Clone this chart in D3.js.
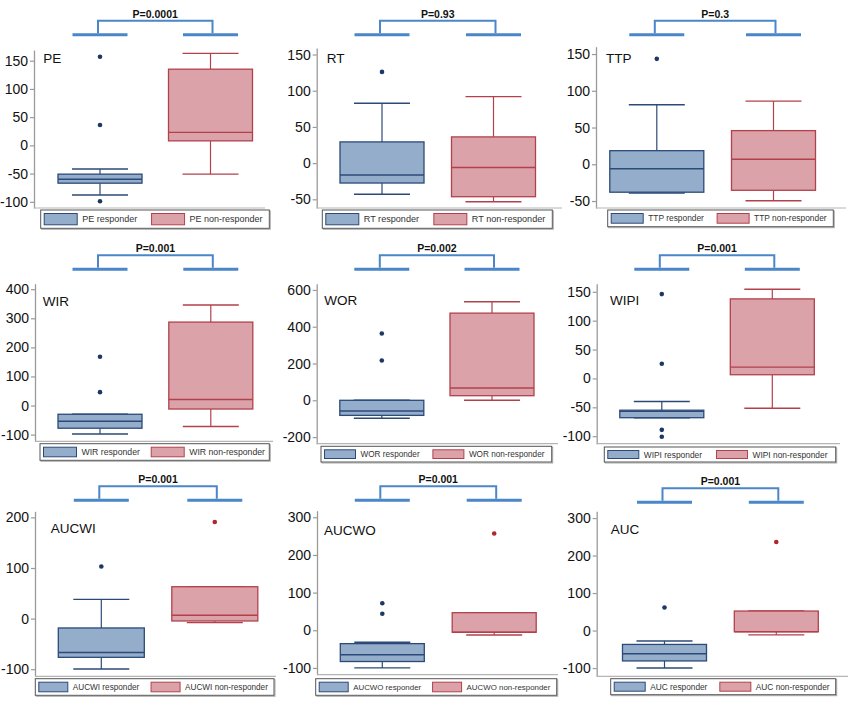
<!DOCTYPE html>
<html><head><meta charset="utf-8">
<script src="https://cdn.jsdelivr.net/npm/d3@7"></script>
<style>body{margin:0;background:#fff} svg{display:block}</style>
</head><body>
<svg id="chart" width="855" height="704"></svg>
<script>
// ---------- DATA ----------
const panelNames = ["PE","RT","TTP","WIR","WOR","WIPI","AUCWI","AUCWO","AUC"];
const pLabels = ["P=0.0001","P=0.93","P=0.3","P=0.001","P=0.002","P=0.001","P=0.001","P=0.001","P=0.001"];
const groups = ["responder","non-responder"];
const yTicks = [
  [-100,-50,0,50,100,150],
  [-50,0,50,100,150],
  [-50,0,50,100,150],
  [-100,0,100,200,300,400],
  [-200,0,200,400,600],
  [-100,-50,0,50,100,150],
  [-100,0,100,200],
  [-100,0,100,200,300],
  [-100,0,100,200,300]
];
const yDomains = [
  [-111,169],[-62,159],[-59.5,160],
  [-123,419],[-236,634],[-113,164],
  [-114,212],[-118,317.5],[-122,318]
];
// [lower whisker, Q1, median, Q3, upper whisker]
const responderStats = [
  [-88,-67,-60,-51,-42],
  [-43,-27.5,-16.5,29.3,82.6],
  [-39,-38,-6,18.5,81],
  [-98,-78,-54,-30,-30],
  [-98,-82,-58,0,0],
  [-68,-68,-57,-55,-40],
  [-99.6,-76.5,-67,-18.5,38],
  [-100,-83,-65,-35.5,-32],
  [-100,-81,-62,-37,-28]
];
const nonResponderStats = [
  [-51,8,23,135,163],
  [-53.3,-46.4,-6,36.2,91.8],
  [-49.6,-35.4,6.8,45.8,86],
  [-72,-12,21,287,346],
  [0,25,67,474,536],
  [-51.6,6.4,19.6,137.7,154.5],
  [-8,-4.7,6.5,63,63],
  [-12.4,-5.3,-5.3,46.7,46.7],
  [-11.5,-3,-3,52,52]
];
const responderOutliers = [
  [157,36,-99],[126],[143.5],[168,46],[363,216],[146,25.5,-89,-101],[103],[71.6,44],[61.5]
];
const nonResponderOutliers = [
  [],[],[],[],[],[],[191],[257],[236]
];

// ---------- LAYOUT (pixels) ----------
const layout = [
  {ax:34,   xr:265, top:50,    bot:208,   bar:34.7,  lx:9.3,  ly:62.5,  c0:66,   c1:176.5, bw0:84, bw1:84, leg:[40.7,269.3,210,228.3], lf:9,   sw:33},
  {ax:316.7,xr:562, top:48,    bot:208,   bar:34.7,  lx:10,   ly:62.7,  c0:65.3, c1:176.8, bw0:84, bw1:84, leg:[322.3,552.3,210,228.3], lf:9.1, sw:33},
  {ax:596,  xr:846, top:46.7,  bot:208,   bar:34.7,  lx:10,   ly:63.3,  c0:60.8, c1:177.5, bw0:94, bw1:84, leg:[607.7,833.3,210,226.7], lf:8.4, sw:32},
  {ax:35,   xr:273, top:283.7, bot:441.3, bar:269.3, lx:7.7,  ly:306,   c0:65,   c1:175.8, bw0:84, bw1:84, leg:[40,269.3,443.7,460.3],  lf:8.7, sw:33},
  {ax:316.7,xr:558, top:283.7, bot:443.7, bar:269.3, lx:7.6,  ly:304.5, c0:65.1, c1:175.3, bw0:84, bw1:84, leg:[321,551.7,446.3,462],   lf:8.2, sw:31},
  {ax:596.7,xr:840, top:283.7, bot:443.7, bar:269.3, lx:13.3, ly:304.5, c0:65.1, c1:175.6, bw0:84, bw1:84, leg:[604.3,835.7,447,462],   lf:8.4, sw:31},
  {ax:35,   xr:276, top:511.3, bot:676.3, bar:500.3, lx:15.7, ly:533,   c0:66.3, c1:179.8, bw0:86, bw1:86, leg:[35.3,274,678.7,695.3],  lf:8.2, sw:29},
  {ax:317,  xr:558, top:510.7, bot:674.7, bar:500.3, lx:7,    ly:534.5, c0:65.3, c1:177.2, bw0:84, bw1:84, leg:[315.7,556.7,678.7,695.3],lf:7.9, sw:29},
  {ax:596.7,xr:848, top:511.3, bot:676.3, bar:502.3, lx:14,   ly:533.5, c0:67.8, c1:179.6, bw0:84, bw1:84, leg:[610.7,835.7,678.7,694.7],lf:8.3, sw:31}
];

const style = {
  fill: {"responder":"#94adcb","non-responder":"#dba3a9"},
  stroke: {"responder":"#2c4a78","non-responder":"#b2414c"},
  dot: {"responder":"#1d3864","non-responder":"#b0262e"},
  bracket: "#4a86c8",
  axis: "#9a9a9a",
  font: "'Liberation Sans', Arial, Helvetica, sans-serif"
};

const svg = d3.select('#chart');

panelNames.forEach((name, i) => {
  const L = layout[i];
  const g = svg.append('g');
  const y = d3.scaleLinear().domain(yDomains[i]).range([L.bot, L.top]);
  const x = d3.scalePoint().domain(groups).range([L.ax + L.c0, L.ax + L.c1]);
  const bw = {"responder": L.bw0, "non-responder": L.bw1};
  const capW = 56;

  // y axis
  const axis = d3.axisLeft(y).tickValues(yTicks[i]).tickSize(4).tickSizeOuter(0).tickPadding(2)
    .tickFormat(d3.format("d"));
  const ag = g.append('g').attr('transform', `translate(${L.ax},0)`).call(axis);
  ag.select('.domain').attr('stroke', style.axis).attr('stroke-width', 1.3);
  ag.selectAll('.tick line').attr('stroke', style.axis).attr('stroke-width', 1.2);
  ag.selectAll('.tick text').attr('fill', '#111').style('font-family', style.font).style('font-size', '14px')
    .text(d => d < 0 ? '-' + Math.abs(d) : d);

  // x baseline
  g.append('line').attr('x1', L.ax).attr('x2', L.xr).attr('y1', L.bot).attr('y2', L.bot)
    .attr('stroke', '#b5b5b5').attr('stroke-width', 1.2);

  // panel label
  g.append('text').attr('x', L.ax + L.lx).attr('y', L.ly).text(name)
    .attr('fill', '#111').style('font-family', style.font).style('font-size', '13.5px');

  // boxes
  const stats = {"responder": responderStats[i], "non-responder": nonResponderStats[i]};
  const outl = {"responder": responderOutliers[i], "non-responder": nonResponderOutliers[i]};
  groups.forEach(grp => {
    const s = stats[grp];
    const cx = x(grp);
    const col = style.stroke[grp];
    const bg = g.append('g');
    if (s[4] > s[3]) bg.append('line').attr('x1', cx).attr('x2', cx).attr('y1', y(s[3])).attr('y2', y(s[4])).attr('stroke', col).attr('stroke-width', 1.2);
    if (s[0] < s[1]) bg.append('line').attr('x1', cx).attr('x2', cx).attr('y1', y(s[1])).attr('y2', y(s[0])).attr('stroke', col).attr('stroke-width', 1.2);
    [s[0], s[4]].forEach(v => {
      bg.append('line').attr('x1', cx - capW/2).attr('x2', cx + capW/2).attr('y1', y(v)).attr('y2', y(v))
        .attr('stroke', col).attr('stroke-width', 1.4);
    });
    bg.append('rect').attr('x', cx - bw[grp]/2).attr('width', bw[grp])
      .attr('y', y(s[3])).attr('height', Math.max(1, y(s[1]) - y(s[3])))
      .attr('fill', style.fill[grp]).attr('stroke', col).attr('stroke-width', 1.3);
    bg.append('line').attr('x1', cx - bw[grp]/2).attr('x2', cx + bw[grp]/2).attr('y1', y(s[2])).attr('y2', y(s[2]))
      .attr('stroke', col).attr('stroke-width', 1.4);
    bg.selectAll('circle.o').data(outl[grp]).enter().append('circle')
      .attr('cx', cx).attr('cy', d => y(d)).attr('r', 2.3).attr('fill', style.dot[grp]);
  });

  // bracket
  const barW = 55;
  const bk = g.append('g');
  groups.forEach(grp => {
    bk.append('line').attr('x1', x(grp) - barW/2).attr('x2', x(grp) + barW/2)
      .attr('y1', L.bar).attr('y2', L.bar).attr('stroke', style.bracket).attr('stroke-width', 3);
  });
  const xl = x(groups[0]) - 2, xrr = x(groups[1]) + 2, ty = L.bar - 14;
  bk.append('path').attr('d', `M${xl},${L.bar - 1.5}V${ty}H${xrr}V${L.bar - 1.5}`)
    .attr('fill', 'none').attr('stroke', style.bracket).attr('stroke-width', 2);
  bk.append('text').attr('x', (xl + xrr) / 2).attr('y', ty - 3).attr('text-anchor', 'middle')
    .text(pLabels[i]).attr('fill', '#111').style('font-family', style.font)
    .style('font-size', '10.5px').style('font-weight', 'bold');

  // legend
  const [lx0, lx1, ly0, ly1] = L.leg;
  const lw = lx1 - lx0, lh = ly1 - ly0;
  const lg = g.append('g');
  lg.append('rect').attr('x', lx0 + 1).attr('y', ly0 + 1).attr('width', lw).attr('height', lh)
    .attr('fill', 'none').attr('stroke', '#aaa').attr('stroke-width', 1);
  lg.append('rect').attr('x', lx0).attr('y', ly0).attr('width', lw).attr('height', lh)
    .attr('fill', '#fff').attr('stroke', '#555').attr('stroke-width', 1);
  groups.forEach((grp, k) => {
    const sx = lx0 + (k === 0 ? 3.5 : lw * 0.485);
    lg.append('rect').attr('x', sx).attr('y', ly0 + 3.5).attr('width', L.sw).attr('height', lh - 7)
      .attr('fill', style.fill[grp]).attr('stroke', style.stroke[grp]).attr('stroke-width', 1);
    lg.append('text').attr('x', sx + L.sw + 5).attr('y', ly0 + lh / 2 + 3)
      .text(name + ' ' + grp).attr('fill', '#333').style('font-family', style.font).style('font-size', L.lf + 'px');
  });
});
</script>
</body></html>
